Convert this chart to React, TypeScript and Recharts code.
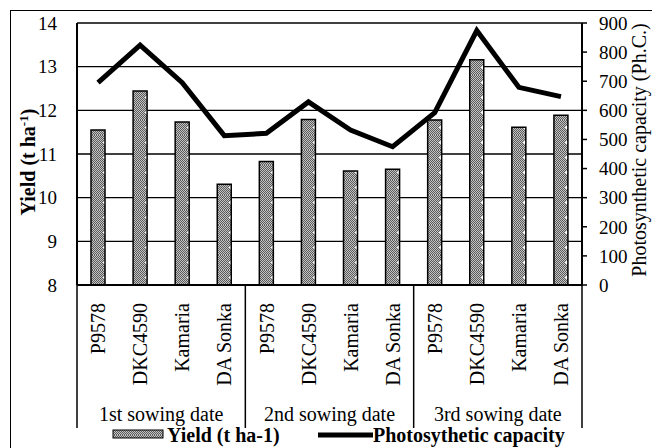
import React from 'react';
import { ComposedChart, Bar, Line, XAxis, YAxis, CartesianGrid } from 'recharts';

const varieties = ['P9578', 'DKC4590', 'Kamaria', 'DA Sonka', 'P9578', 'DKC4590', 'Kamaria', 'DA Sonka', 'P9578', 'DKC4590', 'Kamaria', 'DA Sonka'];
const groups = ['1st sowing date', '2nd sowing date', '3rd sowing date'];
const yieldValues = [11.55, 12.44, 11.73, 10.31, 10.83, 11.79, 10.61, 10.65, 11.78, 13.16, 11.61, 11.89];
const phcValues = [695, 824, 695, 513, 521, 629, 532, 475, 592, 874, 679, 647];
const leftTicks = [8, 9, 10, 11, 12, 13, 14];
const rightTicks = [0, 100, 200, 300, 400, 500, 600, 700, 800, 900];

const data = varieties.map((v, i) => ({
  key: String(i),
  variety: v,
  group: groups[Math.floor(i / 4)],
  yield: yieldValues[i],
  phc: phcValues[i],
}));

const FONT = '"Liberation Serif", "Times New Roman", serif';

const XTick = (props: any) => {
  const { x, y, payload } = props;
  const idx = payload.index ?? Number(payload.value);
  const half = payload.offset || 21;
  const d = data[idx];
  if (!d) return null;
  const ty = y + 18;
  return (
    <g>
      <text
        x={x}
        y={ty}
        transform={`rotate(-90, ${x}, ${ty})`}
        textAnchor="end"
        dy="0.36em"
        fontSize={20}
        fontFamily={FONT}
        fill="#000"
      >
        {d.variety}
      </text>
      {idx % 4 === 0 && (
        <line x1={x - half} y1={y} x2={x - half} y2={y + 143} stroke="#000" strokeWidth={1.5} />
      )}
      {idx === data.length - 1 && (
        <line x1={x + half} y1={y} x2={x + half} y2={y + 143} stroke="#000" strokeWidth={1.5} />
      )}
      {idx % 4 === 1 && (
        <text x={x + half} y={y + 136} textAnchor="middle" fontSize={20} fontFamily={FONT} fill="#000">
          {d.group}
        </text>
      )}
    </g>
  );
};

const LeftLabel = () => (
  <text
    x={28}
    y={162}
    transform="rotate(-90, 28, 162)"
    textAnchor="middle"
    dy="0.36em"
    fontSize={20}
    fontWeight="bold"
    fontFamily={FONT}
    fill="#000"
  >
    Yield (t ha<tspan dy="-7" fontSize={13}>-1</tspan><tspan dy="7">)</tspan>
  </text>
);

const RightLabel = () => (
  <text
    x={639}
    y={150}
    transform="rotate(-90, 639, 150)"
    textAnchor="middle"
    dy="0.36em"
    fontSize={20}
    fontFamily={FONT}
    fill="#000"
  >
    Photosynthetic capacity (Ph.C.)
  </text>
);

export default function App() {
  return (
    <div style={{ position: 'fixed', left: 0, top: 0, width: 652, height: 448, overflow: 'hidden', background: '#fff' }}>
      <div style={{ position: 'absolute', left: 10, top: 10, width: 800, height: 600, border: '1.5px solid #000' }} />
      <svg width={652} height={448} style={{ position: 'absolute', left: 0, top: 0 }}>
        <defs>
          <pattern id="chk" width={2} height={2} patternUnits="userSpaceOnUse">
            <rect x={0} y={0} width={2} height={2} fill="#c4c4c4" />
            <rect x={0} y={0} width={1} height={1} fill="#5a5a5a" />
            <rect x={1} y={1} width={1} height={1} fill="#5a5a5a" />
          </pattern>
          <pattern id="barpat" width={14} height={15} patternUnits="userSpaceOnUse">
            <rect x={0} y={0} width={14} height={15} fill="url(#chk)" />
            <rect x={5} y={7} width={3} height={1} fill="#fff" />
            <rect x={6} y={6} width={1} height={3} fill="#fff" />
          </pattern>
        </defs>
      </svg>
      <div style={{ position: 'absolute', left: 0, top: 0 }}>
        <ComposedChart
          width={652}
          height={448}
          data={data}
          margin={{ top: 23, right: 0, bottom: 0, left: 0 }}
          style={{ fontFamily: FONT }}
        >
          <CartesianGrid horizontal vertical={false} yAxisId="left" stroke="#000" strokeWidth={1.3} strokeOpacity={1} />
          <XAxis
            dataKey="key"
            type="category"
            height={163}
            tick={<XTick />}
            tickLine={false}
            tickSize={0}
            tickMargin={0}
            interval={0}
            axisLine={{ stroke: '#000', strokeWidth: 2 }}
          />
          <YAxis
            yAxisId="left"
            orientation="left"
            width={77}
            domain={[8, 14]}
            ticks={leftTicks}
            interval={0}
            tickLine={false}
            tickSize={0}
            tickMargin={20}
            axisLine={{ stroke: '#000', strokeWidth: 2 }}
            tick={{ fill: '#000', fontSize: 19, fontFamily: FONT }}
            label={<LeftLabel />}
          />
          <YAxis
            yAxisId="right"
            orientation="right"
            width={70}
            domain={[0, 900]}
            ticks={rightTicks}
            interval={0}
            tickLine={{ stroke: '#000', strokeWidth: 1.5 }}
            tickSize={5}
            tickMargin={12}
            axisLine={{ stroke: '#000', strokeWidth: 2 }}
            tick={{ fill: '#000', fontSize: 19, fontFamily: FONT, textAnchor: 'start' }}
            label={<RightLabel />}
          />
          <Bar
            yAxisId="left"
            dataKey="yield"
            barSize={14}
            fill="url(#barpat)"
            stroke="#000"
            strokeWidth={1.5}
            isAnimationActive={false}
          />
          <Line
            yAxisId="right"
            dataKey="phc"
            type="linear"
            stroke="#000"
            strokeWidth={5}
            dot={false}
            activeDot={false}
            isAnimationActive={false}
          />
        </ComposedChart>
      </div>
      <svg width={652} height={448} style={{ position: 'absolute', left: 0, top: 0, pointerEvents: 'none' }}>
        <rect x={113} y={430} width={50} height={8} fill="url(#barpat)" stroke="#000" strokeWidth={1} />
        <text x={167} y={442} fontSize={20} fontWeight="bold" fontFamily={FONT} fill="#000">Yield (t ha-1)</text>
        <line x1={318} y1={435} x2={373} y2={435} stroke="#000" strokeWidth={5} />
        <text x={373} y={442} fontSize={20} fontWeight="bold" fontFamily={FONT} fill="#000">Photosythetic capacity</text>
      </svg>
    </div>
  );
}
